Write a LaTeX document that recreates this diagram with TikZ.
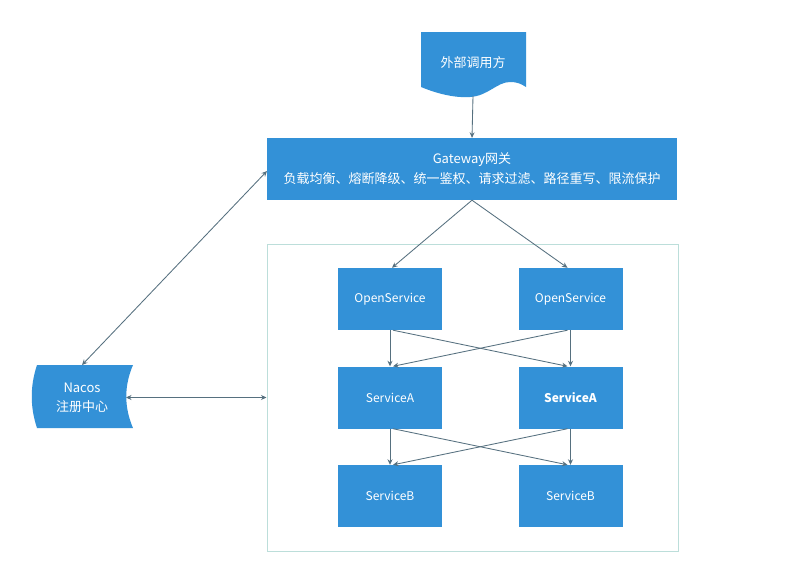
\documentclass[tikz,border=0pt]{standalone}
\usepackage{fontspec}
\setmainfont{Noto Sans CJK SC}
\usetikzlibrary{arrows.meta}
\definecolor{boxblue}{HTML}{3391D7}
\definecolor{linec}{HTML}{56707F}
\definecolor{framec}{HTML}{BCDEDA}
\begin{document}
\begin{tikzpicture}[x=1pt,y=-1pt,
  svc/.style={fill=boxblue, draw=none, minimum width=104pt, minimum height=62pt, text=white, font=\fontsize{12}{14}\selectfont, inner sep=0pt},
  lbl/.style={text=white, align=center, inner sep=0pt},
  conn/.style={draw=linec, line width=0.85pt, -{Stealth[length=5.5pt,width=5pt]}},
  bconn/.style={draw=linec, line width=0.85pt, {Stealth[length=5.5pt,width=5pt]}-{Stealth[length=5.5pt,width=5pt]}}]
\useasboundingbox[fill=white] (0,0) rectangle (792,562);
% external caller (document shape)
\fill[boxblue] (421,32) -- (526,32) -- (526,87)
  .. controls (521,84) and (518,82) .. (510,82)
  .. controls (497,82) and (488,96) .. (470,97)
  .. controls (455,98) and (438,94) .. (421,87) -- cycle;
\node[lbl, font=\fontsize{13}{15}\selectfont] (ext) at (473,63) {外部调用方};
\coordinate (extb) at (473,96);
% gateway
\node[fill=boxblue, minimum width=410pt, minimum height=62pt, inner sep=0pt, text=white, align=center, font=\fontsize{13}{20}\selectfont] (gw) at (472,169) {Gateway网关\\负载均衡、熔断降级、统一鉴权、请求过滤、路径重写、限流保护};
% frame
\node[draw=framec, line width=1pt, minimum width=411pt, minimum height=307pt, inner sep=0pt] (frame) at (472.5,397.5) {};
% services
\node[svc] (os1) at (390,299) {OpenService};
\node[svc] (os2) at (570.5,299) {OpenService};
\node[svc] (sa1) at (390,397.5) {ServiceA};
\node[svc] (sa2) at (570.5,397.5) {\bfseries ServiceA};
\node[svc] (sb1) at (390,496) {ServiceB};
\node[svc] (sb2) at (570.5,496) {ServiceB};
% nacos (stored data shape)
\fill[boxblue] (37,365) -- (133,365) .. controls (124,386) and (124,407) .. (133,428)
  -- (37,428) .. controls (30,407) and (30,386) .. (37,365) -- cycle;
\node[lbl, font=\fontsize{13}{19}\selectfont] (nacos) at (82,398) {Nacos\\注册中心};
\coordinate (nacT) at (82,365);
\coordinate (nacR) at (126,397.5);
\coordinate (gwl) at (267,171);
% connectors
\draw[conn] (extb) -- (gw.north);
\draw[conn] (gw.south) -- ([xshift=2pt]os1.north);
\draw[conn] (gw.south) -- ([xshift=-3pt]os2.north);
\draw[bconn] (nacT) -- (gwl);
\draw[bconn] (nacR) -- (frame.west);
\draw[conn] (os1.south) -- (sa1.north);
\draw[conn] (os2.south) -- (sa2.north);
\draw[conn] ([xshift=3pt]os1.south) -- ([xshift=-3pt]sa2.north);
\draw[conn] ([xshift=-3pt]os2.south) -- ([xshift=3pt]sa1.north);
\draw[conn] (sa1.south) -- (sb1.north);
\draw[conn] (sa2.south) -- (sb2.north);
\draw[conn] ([xshift=3pt]sa1.south) -- ([xshift=-3pt]sb2.north);
\draw[conn] ([xshift=-3pt]sa2.south) -- ([xshift=3pt]sb1.north);
\end{tikzpicture}
\end{document}
